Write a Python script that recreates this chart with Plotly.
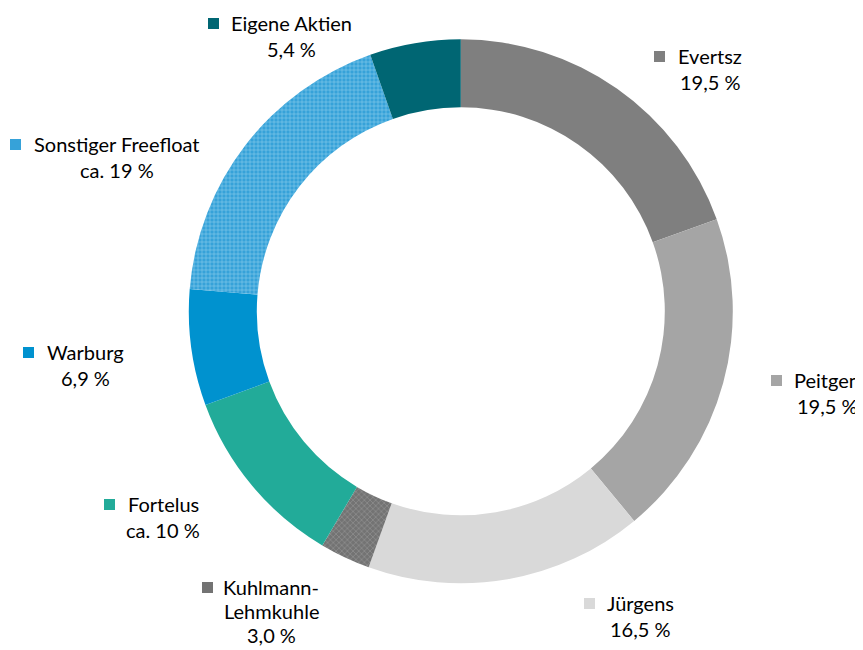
import plotly.graph_objects as go

OFF = 8  # default page body margin
W, H = 863 - OFF, 650 - OFF

labels = ["Evertsz", "Peitgen", "Jürgens", "Kuhlmann-Lehmkuhle", "Fortelus",
          "Warburg", "Sonstiger Freefloat", "Eigene Aktien"]
values = [19.5, 19.5, 16.5, 3.0, 10.9, 6.9, 18.3, 5.4]
value_texts = ["19,5 %", "19,5 %", "16,5 %", "3,0 %", "ca. 10 %", "6,9 %", "ca. 19 %", "5,4 %"]
name_lines = [["Evertsz"], ["Peitgen"], ["Jürgens"], ["Kuhlmann-", "Lehmkuhle"],
              ["Fortelus"], ["Warburg"], ["Sonstiger Freefloat"], ["Eigene Aktien"]]
colors = ["#7f7f7f", "#a5a5a5", "#d9d9d9", "#737373", "#22ab99",
          "#0092cf", "#36a2d9", "#006673"]
pat_shape = ["", "", "", "x", "", "", "+", ""]
pat_fg = ["#7f7f7f", "#a5a5a5", "#d9d9d9", "#9a9a9a", "#22ab99",
          "#0092cf", "#8fcdeb", "#006673"]

# label block layout (screen pixels): (text center x, first line center y, square left x, line step)
label_pos = [(710, 56, 654, 26), (827, 380, 771, 26), (640, 603, 584, 26), (271, 587, 202, 24),
             (163, 504, 104, 26), (85, 352, 23, 26), (117, 144, 10, 26), (291, 23, 208, 26)]

font = dict(family="Lato, Open Sans, sans-serif", size=20, color="#000000")

cx0, cy0, R = 460.8 - OFF, 311.3 - OFF, 272

fig = go.Figure(go.Pie(
    labels=labels, values=values, sort=False, direction="clockwise", rotation=0,
    hole=0.75, textinfo="none", hoverinfo="label+percent",
    marker=dict(colors=colors, line=dict(width=0),
                pattern=dict(shape=pat_shape, fgcolor=pat_fg, bgcolor=colors,
                             size=4, solidity=0.25, fillmode="replace")),
    domain=dict(x=[(cx0 - R) / W, (cx0 + R) / W],
                y=[(H - cy0 - R) / H, (H - cy0 + R) / H]),
    showlegend=False,
))

annotations = []
shapes = []
for i in range(len(labels)):
    tx, ty, sqx, step = label_pos[i]
    tx, ty, sqx = tx - OFF, ty - OFF, sqx - OFF
    lines = name_lines[i] + [value_texts[i]]
    for j, ln in enumerate(lines):
        y = ty + j * step
        annotations.append(dict(text=ln, x=tx / W, y=1 - y / H, xref="paper", yref="paper",
                                xanchor="center", yanchor="middle", showarrow=False, font=font,
                                borderpad=0))
    shapes.append(dict(type="rect", xref="paper", yref="paper",
                       x0=sqx / W, x1=(sqx + 11) / W,
                       y0=1 - (ty + 6) / H, y1=1 - (ty - 5) / H,
                       fillcolor=colors[i], line=dict(width=0)))

fig.update_layout(width=W, height=H, margin=dict(l=0, r=0, t=0, b=0),
                  paper_bgcolor="white", plot_bgcolor="white",
                  annotations=annotations, shapes=shapes)
fig.write_html("out.html")
